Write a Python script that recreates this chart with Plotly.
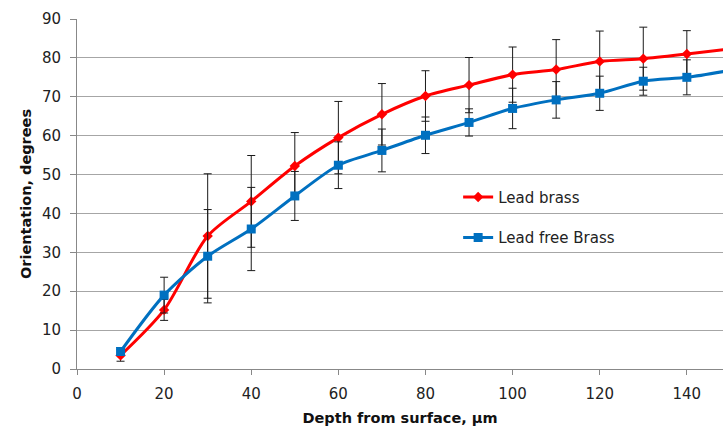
import plotly.graph_objects as go

depth = [10, 20, 30, 40, 50, 60, 70, 80, 90, 100, 110, 120, 130, 140, 150]
lead_brass = [3.5, 15.2, 34.2, 43.1, 52.2, 59.5, 65.5, 70.2, 73.0, 75.7, 77.0, 79.1, 79.8, 81.0, 82.3]
lead_brass_err = [1.5, 2.7, 16.0, 11.8, 8.6, 9.3, 7.9, 6.5, 7.1, 7.1, 7.7, 7.8, 8.1, 6.0, 7.0]
lead_free = [4.5, 19.0, 29.0, 36.0, 44.5, 52.4, 56.2, 60.1, 63.4, 67.0, 69.2, 70.9, 74.0, 75.0, 76.8]
lead_free_err = [1.0, 4.6, 12.0, 10.7, 6.3, 6.0, 5.5, 4.7, 3.5, 5.2, 4.7, 4.4, 3.6, 4.5, 4.0]

x_ticks = [0, 20, 40, 60, 80, 100, 120, 140]
y_ticks = [0, 10, 20, 30, 40, 50, 60, 70, 80, 90]

FONT = "DejaVu Sans, sans-serif"

fig = go.Figure()
fig.add_trace(go.Scatter(
    x=depth, y=lead_brass, name="Lead brass", mode="lines+markers",
    line=dict(color="#ff0000", width=3, shape="spline", smoothing=0.8),
    marker=dict(symbol="diamond", size=8, color="#ff0000"),
    error_y=dict(type="data", array=lead_brass_err, color="#1a1a1a", thickness=1, width=4),
    legendgroup="a",
))
fig.add_trace(go.Scatter(
    x=depth, y=lead_free, name="Lead free Brass", mode="lines+markers",
    line=dict(color="#0070c0", width=3, shape="spline", smoothing=0.8),
    marker=dict(symbol="square", size=9, color="#0070c0"),
    error_y=dict(type="data", array=lead_free_err, color="#1a1a1a", thickness=1, width=4),
    legendgroup="b",
))

fig.update_layout(
    width=723, height=433,
    margin=dict(l=77, r=0, t=19, b=64, pad=0),
    paper_bgcolor="white", plot_bgcolor="white",
    font=dict(family=FONT, size=15, color="#222222"),
    showlegend=True,
    legend=dict(x=0.59, y=0.538, xanchor="left", yanchor="top",
                bgcolor="rgba(0,0,0,0)", font=dict(size=15, color="#222222"),
                tracegroupgap=18, traceorder="grouped"),
    xaxis=dict(
        range=[0, 148.3], tickvals=x_ticks, showgrid=False,
        showline=True, linecolor="#888888", linewidth=1,
        ticks="outside", ticklen=5, tickcolor="#888888", ticklabelstandoff=6,
        title=dict(text="<b>Depth from surface, µm</b>", font=dict(size=14.5, color="#111111"), standoff=10),
        tickfont=dict(size=15, color="#222222"), zeroline=False,
    ),
    yaxis=dict(
        range=[0, 90], tickvals=y_ticks, showgrid=True, gridcolor="#a6a6a6", gridwidth=1,
        showline=True, linecolor="#888888", linewidth=1,
        ticks="outside", ticklen=6, tickcolor="#888888", ticklabelstandoff=6,
        title=dict(text="<b>Orientation, degrees</b>", font=dict(size=14.5, color="#111111"), standoff=6),
        tickfont=dict(size=15, color="#222222"), zeroline=False,
    ),
)

fig.write_html(
    "out.html",
    config={"displayModeBar": False},
    post_script="document.body.style.margin='0';document.body.style.overflow='hidden';",
)
